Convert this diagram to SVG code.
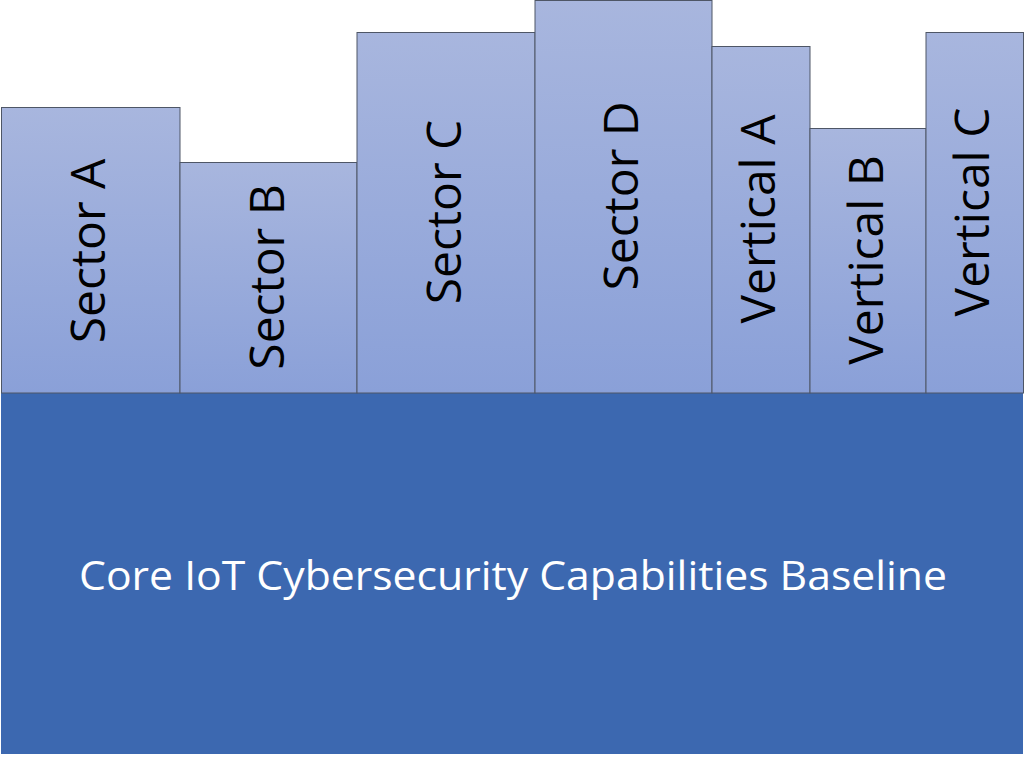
<svg xmlns="http://www.w3.org/2000/svg" width="1025" height="757" viewBox="0 0 1025 757">
  <defs>
    <linearGradient id="colFill" x1="0" y1="0" x2="0" y2="1">
      <stop offset="0" stop-color="#A8B6DE"/>
      <stop offset="1" stop-color="#8AA0D8"/>
    </linearGradient>
  </defs>
  <style>
    .col { fill: url(#colFill); stroke: #4E5666; stroke-width: 1; }
    .colLabel { font-family: "Open Sans", "Liberation Sans", sans-serif; font-size: 48px; fill: #000; text-anchor: middle; }
    .base { fill: #3C68B0; }
    .baseLabel { font-family: "Open Sans", "Liberation Sans", sans-serif; font-size: 41px; fill: #FFFFFF; text-anchor: middle; }
  </style>
  <rect width="1025" height="757" fill="#FFFFFF"/>

  <g id="baseline">
    <rect class="base" x="1" y="393" width="1022" height="361"/>
    <text class="baseLabel" x="513" y="590" textLength="868" lengthAdjust="spacingAndGlyphs">Core IoT Cybersecurity Capabilities Baseline</text>
  </g>

  <!-- labels run bottom-to-top; baseline sits ~14px right of each column centre -->
  <g id="sector-a">
    <rect class="col" x="1.5" y="107.5" width="178.5" height="285.5"/>
    <text class="colLabel" transform="translate(105,251) rotate(-90)">Sector A</text>
  </g>
  <g id="sector-b">
    <rect class="col" x="180" y="162.5" width="177" height="230.5"/>
    <text class="colLabel" transform="translate(284,277) rotate(-90)">Sector B</text>
  </g>
  <g id="sector-c">
    <rect class="col" x="357" y="32.5" width="178" height="360.5"/>
    <text class="colLabel" transform="translate(461,212) rotate(-90)">Sector C</text>
  </g>
  <g id="sector-d">
    <rect class="col" x="535" y="0.5" width="177" height="392.5"/>
    <text class="colLabel" transform="translate(638,196) rotate(-90)">Sector D</text>
  </g>
  <g id="vertical-a">
    <rect class="col" x="712" y="46.5" width="98" height="346.5"/>
    <text class="colLabel" transform="translate(775,219) rotate(-90)">Vertical A</text>
  </g>
  <g id="vertical-b">
    <rect class="col" x="810" y="128.5" width="116" height="264.5"/>
    <text class="colLabel" transform="translate(883,260) rotate(-90)">Vertical B</text>
  </g>
  <g id="vertical-c">
    <rect class="col" x="926" y="32.5" width="97.5" height="360.5"/>
    <text class="colLabel" transform="translate(989,212) rotate(-90)">Vertical C</text>
  </g>

  <g id="connectors"></g>
</svg>
